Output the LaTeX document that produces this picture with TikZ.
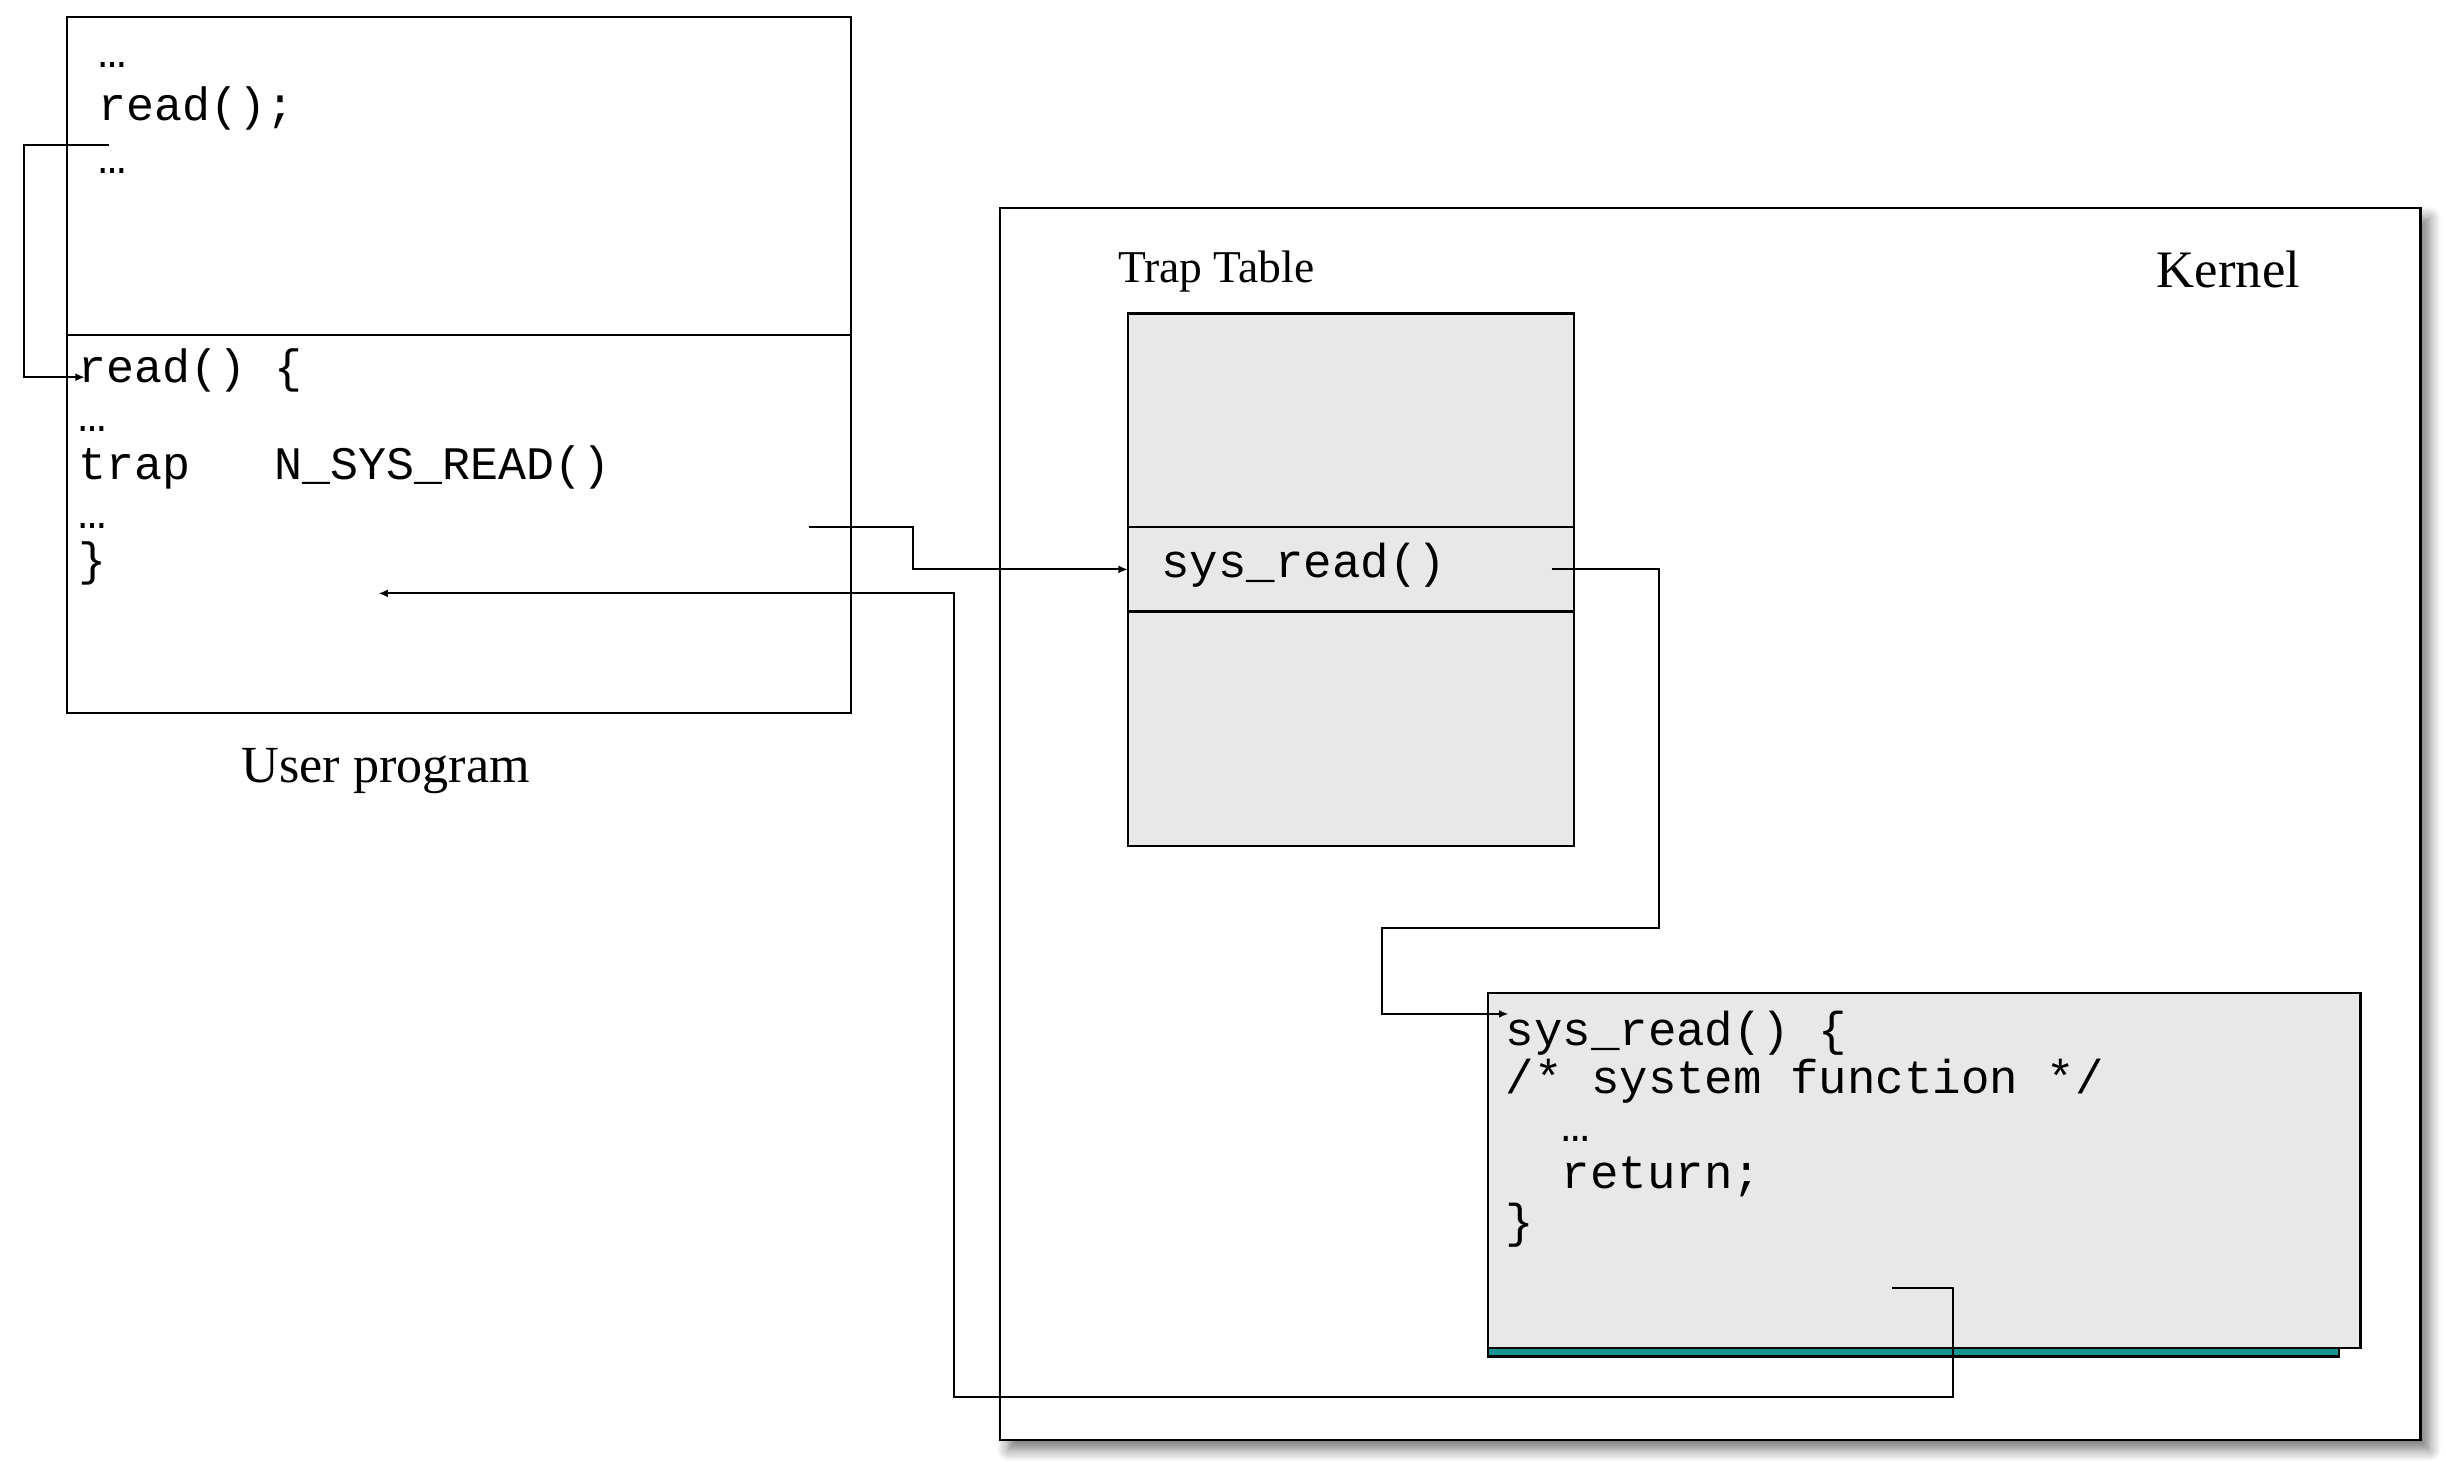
\documentclass[tikz,border=0pt]{standalone}
\usepackage{fontspec}
\setmainfont{Liberation Serif}
\newfontfamily\codefont{Liberation Mono}
\usetikzlibrary{arrows.meta,shadows.blur}
\newcommand\msp{\hphantom{x}}
\definecolor{boxgray}{RGB}{232,232,232}
\definecolor{tealbar}{RGB}{24,148,148}
\tikzset{
  box/.style={draw, line width=0.45pt, inner sep=0pt, outer sep=0pt, anchor=north west},
  ucode/.style={font={\codefont\fontsize{8.5pt}{10pt}\selectfont}, inner sep=0pt, anchor=base west},
  kcode/.style={font={\codefont\fontsize{8.65pt}{10pt}\selectfont}, inner sep=0pt, anchor=base west},
  lbl/.style={inner sep=0pt, anchor=base west},
  conn/.style={line width=0.4pt},
  arr/.style={conn, -{Latex[length=0.6mm,width=0.5mm]}},
}
\begin{document}
\begin{tikzpicture}[x=0.01cm,y=-0.01cm]
\useasboundingbox (0,0) rectangle (1568,937);
% Kernel box
\node[box, fill=white, minimum width=9.1cm, minimum height=7.89cm,
  blur shadow={shadow xshift=1.6pt, shadow yshift=-1.8pt, shadow blur radius=2.2pt, shadow blur steps=8, shadow opacity=55}]
  (kernel) at (641,133.5) {};
\node[lbl, font=\fontsize{9.6pt}{11pt}\selectfont] (klabel) at (1382,184) {Kernel};
\node[lbl, font=\fontsize{8.3pt}{10pt}\selectfont] (ttlabel) at (716,181) {Trap Table};
% Trap table
\node[box, fill=boxgray, minimum width=2.86cm, minimum height=3.41cm] (tt) at (723,201) {};
\node[box, minimum width=2.86cm, minimum height=0.54cm] (ttrow) at (723,338) {};
\node[kcode] (ttsys) at (743.8,370) {sys\_read()};
% System function box
\node[box, fill=tealbar, minimum width=5.45cm, minimum height=0.06cm] (bar) at (954,863.5) {};
\node[box, fill=boxgray, minimum width=5.59cm, minimum height=2.275cm] (sysfn) at (954,636.5) {};
\node[kcode] (sf1) at (964.5,670.5) {sys\_read()\msp\{};
\node[kcode] (sf2) at (964.5,701) {/*\msp system\msp function\msp */};
\node[kcode] (sf3) at (1000.5,731.5) {…};
\node[kcode] (sf4) at (1000.5,762) {return;};
\node[kcode] (sf5) at (964.5,793) {\}};
% User program box
\node[box, fill=white, minimum width=5.022cm, minimum height=4.457cm] (user) at (43,11) {};
\draw[line width=0.45pt] (user.west |- 0,214.7) coordinate (udl) -- (user.east |- 0,214.7) coordinate (udr);
\node[ucode] (u1) at (62.5,43) {…};
\node[ucode] (u2) at (62.5,77.5) {read();};
\node[ucode] (u3) at (62.5,111) {…};
\node[ucode] (l1) at (49.6,245.5) {read()\msp\{};
\node[ucode] (l2) at (49.6,276.5) {…};
\node[ucode] (l3) at (49.6,307.5) {trap\msp\msp\msp N\_SYS\_READ()};
\node[ucode] (l4) at (49.6,338.5) {…};
\node[ucode] (l5) at (49.6,369) {\}};
\node[lbl, font=\fontsize{9.5pt}{11pt}\selectfont] (ulabel) at (154.4,501.6) {User program};
% connector end points
\coordinate (a1s) at (70,93);
\coordinate (a1c) at (15.4,93);
\coordinate (a1e) at (54.4,241.8);
\coordinate (a2s) at (518.6,338);
\coordinate (a2c) at (585.5,351);
\coordinate (a3s) at (994.6,365);
\coordinate (a3c1) at (1063.5,594.7);
\coordinate (a3c2) at (885.8,620);
\coordinate (a3e) at (967,650);
\coordinate (a4s) at (1212.7,825.8);
\coordinate (a4c1) at (1252,895.8);
\coordinate (a4c2) at (611.5,600);
\coordinate (a4e) at (242.6,380.4);
% connectors
\draw[arr] (a1s) -- (a1c) |- (a1e);
\draw[arr] (a2s) -| (a2c) |- (ttrow.west);
\draw[arr] (a3s) -| (a3c1) -| (a3c2) |- (a3e);
\draw[arr] (a4s) -| (a4c1) -| (a4c2) |- (a4e);
\end{tikzpicture}
\end{document}
